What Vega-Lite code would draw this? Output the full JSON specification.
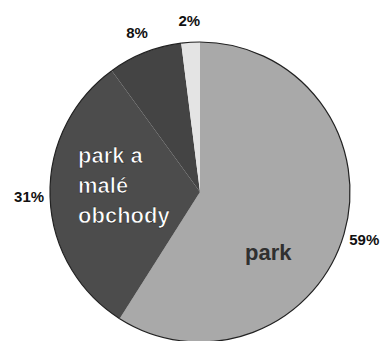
{
  "$schema": "https://vega.github.io/schema/vega-lite/v6.json",
  "autosize": "none",
  "width": 400,
  "height": 384,
  "padding": 0,
  "background": "white",
  "view": {"stroke": null},
  "data": {"values": [
    {"o": 1, "cat": "park", "value": 59, "pct": "59%", "name": ["park"]},
    {"o": 2, "cat": "park a malé obchody", "value": 31, "pct": "31%", "name": ["park a", "malé", "obchody"]},
    {"o": 3, "cat": "jiné", "value": 8, "pct": "8%", "name": [""]},
    {"o": 4, "cat": "ostatní", "value": 2, "pct": "2%", "name": [""]}
  ]},
  "encoding": {
    "theta": {"field": "value", "type": "quantitative", "stack": true},
    "order": {"field": "o", "type": "quantitative"}
  },
  "layer": [
    {
      "mark": {"type": "arc", "outerRadius": 150},
      "encoding": {
        "color": {"field": "cat", "type": "nominal", "legend": null,
          "scale": {"domain": ["park", "park a malé obchody", "jiné", "ostatní"],
                    "range": ["#a9a9a9", "#4c4c4c", "#444444", "#e4e4e4"]}}
      }
    },
    {
      "mark": {"type": "arc", "outerRadius": 150, "filled": false, "stroke": "#222", "strokeWidth": 1.2, "innerRadius": 150},
      "encoding": {}
    },
    {
      "mark": {"type": "text", "radius": 171, "font": "Liberation Sans", "fontWeight": "bold", "fontSize": 15, "color": "#111"},
      "encoding": {"text": {"field": "pct"}}
    },
    {
      "mark": {"type": "text", "radius": 92, "dx": -20, "dy": 35, "font": "Liberation Sans", "fontWeight": "bold", "fontSize": 22, "color": "#303030"},
      "encoding": {"text": {"condition": {"test": "datum.o == 1", "field": "name"}, "value": ""}}
    },
    {
      "mark": {"type": "text", "radius": 76, "dx": -46, "dy": -38, "align": "left", "baseline": "middle", "lineHeight": 30, "font": "Liberation Sans", "fontWeight": "bold", "fontSize": 22, "color": "white", "stroke": "#222", "strokeWidth": 0.6},
      "encoding": {"text": {"condition": {"test": "datum.o == 2", "field": "name"}, "value": ""}}
    }
  ]
}
